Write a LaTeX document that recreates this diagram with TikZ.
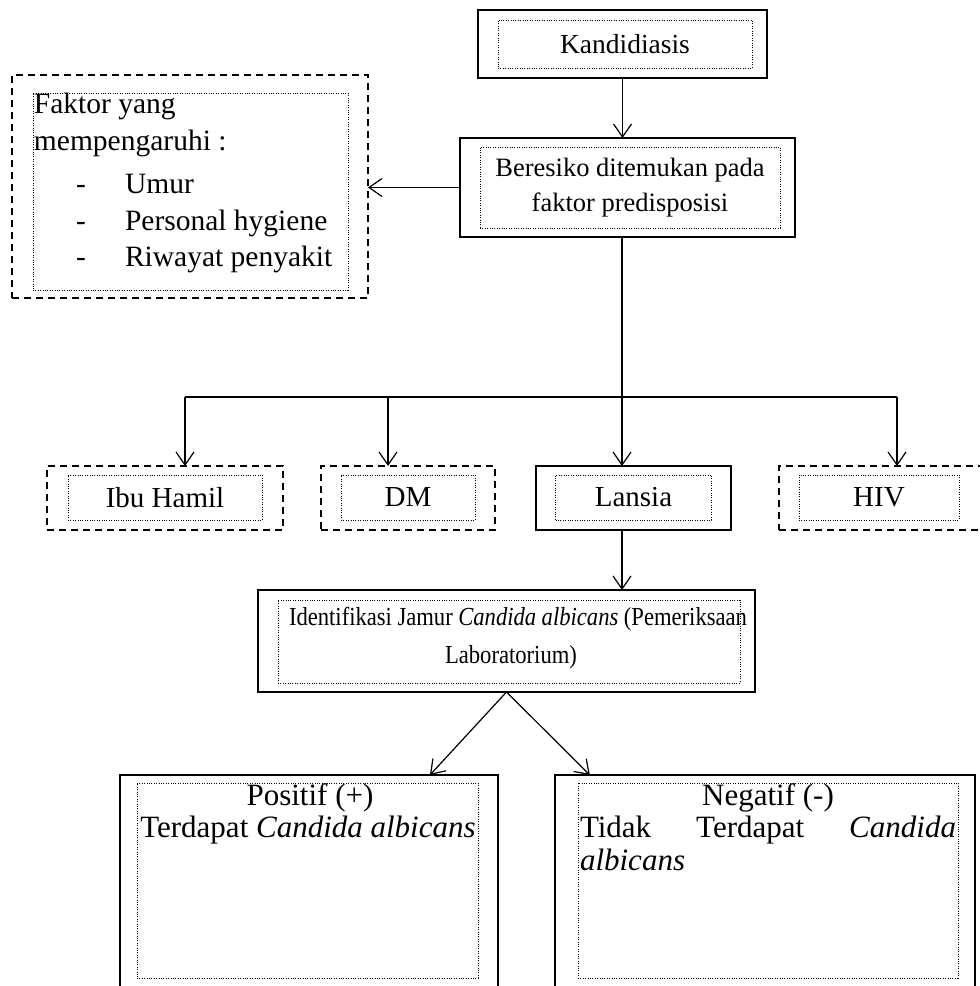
\documentclass[tikz,border=0pt]{standalone}
\usepackage{fontspec}
\setmainfont{Liberation Serif}
\newfontfamily\narrowserif[FakeStretch=0.87]{Liberation Serif}
\usetikzlibrary{arrows.meta,calc}
\tikzset{
  base/.style={inner sep=0pt, outer sep=0pt},
  solidbox/.style={base, draw, line width=1.4pt},
  dashbox/.style={base, draw, line width=1.4pt, dash pattern=on 7pt off 5pt},
  dotbox/.style={base, draw, line width=1pt, dash pattern=on 1pt off 1.4pt},
  ftop/.style={base, font=\fontsize{27.5}{35}\selectfont},
  fberes/.style={base, font=\fontsize{26.5}{35}\selectfont},
  ffak/.style={base, font=\fontsize{29.5}{37}\selectfont},
  flevel/.style={base, font=\fontsize{29}{35}\selectfont},
  fident/.style={base, font=\narrowserif\fontsize{26}{38}\selectfont},
  fres/.style={base, font=\fontsize{31}{33}\selectfont},
  arr/.style={line width=1.2pt, -{Straight Barb[length=13pt,width=18pt,line width=1.2pt]}},
  conn/.style={line width=1.2pt},
}
\begin{document}
\begin{tikzpicture}[x=1pt,y=-1pt]
\useasboundingbox (0,0) rectangle (980,986);
% Kandidiasis
\node[solidbox, minimum width=289, minimum height=68] (kand) at (622.5,44) {};
\node[dotbox, ftop, minimum width=254, minimum height=48] (kandin) at (625,44) {Kandidiasis};
% Beresiko
\node[solidbox, minimum width=335, minimum height=99] (beres) at (627.5,187.5) {};
\node[dotbox, fberes, minimum width=300, minimum height=81, align=center] (beresin) at (630,187.5) {Beresiko ditemukan pada\\faktor predisposisi};
\draw[arr] (kand.south) -- (kand.south |- beres.north);
% Faktor
\node[dashbox, minimum width=356, minimum height=223] (fak) at (190,186.5) {};
\node[dotbox, minimum width=315, minimum height=197] (fakin) at (190.5,191.5) {};
\node[ffak, anchor=base west] (f1) at (34,113) {Faktor yang};
\node[ffak, anchor=base west] (f2) at (34,150) {mempengaruhi :};
\node[ffak, anchor=base west] (d1) at (76,193) {-};
\node[ffak, anchor=base west] (i1) at (125,193) {Umur};
\node[ffak, anchor=base west] (d2) at (76,230) {-};
\node[ffak, anchor=base west] (i2) at (125,230) {Personal hygiene};
\node[ffak, anchor=base west] (d3) at (76,266) {-};
\node[ffak, anchor=base west] (i3) at (125,266) {Riwayat penyakit};
\draw[arr] (beres.west) -- (beres.west -| fak.east);
% branch
\coordinate (hub) at (622,397);
\coordinate (b1) at (185,397);
\coordinate (b2) at (388,397);
\coordinate (b4) at (897,397);
\draw[conn] (beres.south -| hub) -- (hub);
\draw[conn] (b1) -- (b4);
% level boxes
\node[dashbox, minimum width=236, minimum height=64] (ibu) at (165,498) {};
\node[dotbox, flevel, minimum width=194, minimum height=45] (ibuin) at (165,497.5) {Ibu Hamil};
\node[dashbox, minimum width=174, minimum height=64] (dm) at (408,498) {};
\node[dotbox, flevel, minimum width=134, minimum height=45] (dmin) at (408,497.5) {DM};
\node[solidbox, minimum width=195, minimum height=64] (lans) at (633.5,498) {};
\node[dotbox, flevel, minimum width=156, minimum height=45] (lansin) at (633.5,497.5) {Lansia};
\node[dashbox, minimum width=221, minimum height=64] (hiv) at (889.5,498) {};
\node[dotbox, flevel, minimum width=160, minimum height=45] (hivin) at (879,497.5) {HIV};
\draw[arr] (b1) -- (b1 |- ibu.north);
\draw[arr] (b2) -- (b2 |- dm.north);
\draw[arr] (hub) -- (hub |- lans.north);
\draw[arr] (b4) -- (b4 |- hiv.north);
% Identifikasi
\node[solidbox, minimum width=497, minimum height=102] (ident) at (506.5,641) {};
\node[dotbox, minimum width=462, minimum height=83] (identin) at (509,641.5) {};
\node[fident, anchor=base west] (id1) at (289,625) {\makebox[458pt][s]{Identifikasi Jamur \textit{Candida albicans} (Pemeriksaan}};
\node[fident, anchor=base] (id2) at (511,663) {Laboratorium)};
\draw[arr] (lans.south -| hub) -- (hub |- ident.north);
% results
\node[solidbox, minimum width=378, minimum height=225] (pos) at (309,887.5) {};
\node[dotbox, minimum width=341, minimum height=195] (posin) at (307.5,880.5) {};
\node[fres, anchor=base] (p1) at (310,805) {Positif (+)};
\node[fres, anchor=base] (p2) at (308,837) {Terdapat \textit{Candida albicans}};
\node[solidbox, minimum width=420, minimum height=225] (neg) at (765,887.5) {};
\node[dotbox, minimum width=380, minimum height=195] (negin) at (768,880.5) {};
\node[fres, anchor=base] (n1) at (768,805) {Negatif (-)};
\node[fres, anchor=base west] (n2) at (580,837) {\makebox[376pt][s]{Tidak Terdapat \textit{Candida}}};
\node[fres, anchor=base west] (n3) at (580,870) {\textit{albicans}};
\draw[arr] (ident.south) -- ($(pos.north west)!0.82!(pos.north east)$);
\draw[arr] (ident.south) -- ($(neg.north west)!0.083!(neg.north east)$);
\end{tikzpicture}
\end{document}
